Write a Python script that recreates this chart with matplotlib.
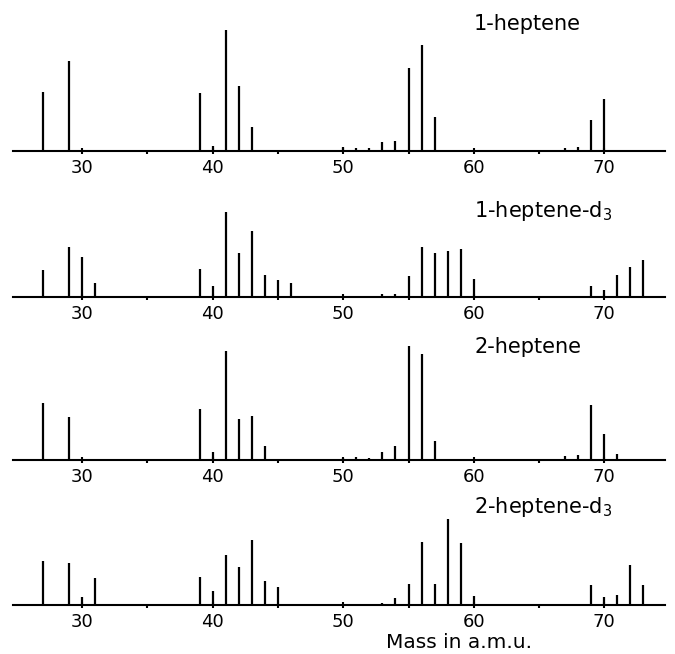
import matplotlib
matplotlib.use("Agg")
import matplotlib.pyplot as plt
from matplotlib.ticker import MultipleLocator, FixedLocator

# peak heights (arbitrary intensity units, same scale in every panel)
mass_1hep = [27, 29, 39, 40, 41, 42, 43, 50, 51, 52, 53, 54, 55, 56, 57, 67, 68, 69, 70]
int_1hep = [59, 90, 58, 5, 121, 65, 24, 4, 3, 3, 9, 10, 83, 106, 34, 3, 4, 31, 52]

mass_1hep_d3 = [27, 29, 30, 31, 39, 40, 41, 42, 43, 44, 45, 46,
                53, 54, 55, 56, 57, 58, 59, 60, 69, 70, 71, 72, 73]
int_1hep_d3 = [27, 50, 40, 14, 28, 11, 85, 44, 66, 22, 17, 14,
               3, 3, 21, 50, 44, 46, 48, 18, 11, 7, 22, 30, 37]

mass_2hep = [27, 29, 39, 40, 41, 42, 43, 44, 50, 51, 52, 53, 54, 55, 56, 57, 67, 68, 69, 70, 71]
int_2hep = [57, 43, 51, 8, 109, 41, 44, 14, 2, 3, 2, 8, 14, 114, 106, 19, 4, 5, 55, 26, 6]

mass_2hep_d3 = [27, 29, 30, 31, 39, 40, 41, 42, 43, 44, 45,
                53, 54, 55, 56, 57, 58, 59, 60, 69, 70, 71, 72, 73]
int_2hep_d3 = [44, 42, 8, 27, 28, 14, 50, 38, 65, 24, 18,
               2, 7, 21, 63, 21, 86, 62, 9, 20, 8, 10, 40, 20]

titles = ["1-heptene", "1-heptene-d$_3$", "2-heptene", "2-heptene-d$_3$"]
spectra = [(mass_1hep, int_1hep), (mass_1hep_d3, int_1hep_d3),
           (mass_2hep, int_2hep), (mass_2hep_d3, int_2hep_d3)]

W, H = 675, 654
baselines = [151, 297, 460, 605]   # pixel row of each panel's axis line
panel_h = 125

fig = plt.figure(figsize=(W / 100, H / 100), dpi=100)

for i, ((m, y), title) in enumerate(zip(spectra, titles)):
    b = baselines[i]
    ax = fig.add_axes([13 / W, (H - b) / H, 652 / W, panel_h / H])
    ax.patch.set_alpha(0)
    ax.vlines(m, 0, y, color="black", lw=1.6)
    ax.set_xlim(24.7, 74.65)
    ax.set_ylim(0, panel_h)
    for s in ["top", "right", "left"]:
        ax.spines[s].set_visible(False)
    ax.spines["bottom"].set_linewidth(1.5)
    ax.set_yticks([])
    ax.xaxis.set_major_locator(MultipleLocator(10))
    ax.xaxis.set_minor_locator(FixedLocator([35, 45, 55, 65]))
    ax.tick_params(axis="x", which="major", direction="inout", length=5, width=1.5,
                   labelsize=13, pad=3)
    ax.tick_params(axis="x", which="minor", direction="out", length=2.5, width=1.5)
    ax.text(474 / W, (H - [24, 211, 347, 507][i]) / H, title, transform=fig.transFigure,
            fontsize=15, ha="left", va="center")

fig.text(459 / W, (H - 643) / H, "Mass in a.m.u.", fontsize=14.5, ha="center", va="center")

fig.savefig("out.png", dpi=100)
